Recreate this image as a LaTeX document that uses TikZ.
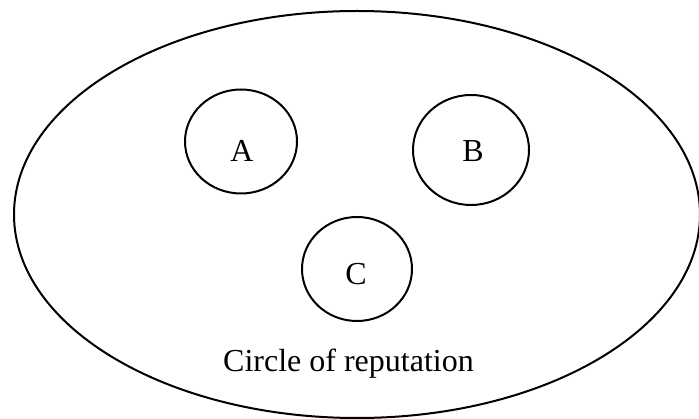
\documentclass[tikz,border=0pt]{standalone}
\usepackage{fontspec}
\setmainfont{Liberation Serif}
\usetikzlibrary{shapes.geometric}
\begin{document}
\begin{tikzpicture}[x=1pt,y=-1pt,
  ring/.style={draw=black, line width=2pt, ellipse, inner sep=0pt},
  lbl/.style={anchor=base, inner sep=0pt, font=\fontsize{32}{38}\selectfont}]
\useasboundingbox (0,0) rectangle (699,419);
\node[ring, minimum width=686pt, minimum height=407pt] (outer) at (357,214.5) {};
\node[ring, minimum width=112pt, minimum height=104pt] (ca) at (241,141.5) {};
\node[ring, minimum width=116pt, minimum height=110pt] (cb) at (471,150) {};
\node[ring, minimum width=110pt, minimum height=104pt] (cc) at (357,269) {};
\node[lbl] (ta) at (242,162) {A};
\node[lbl] (tb) at (473,162) {B};
\node[lbl] (tc) at (356,285) {C};
\node[lbl] (title) at (348.5,372) {Circle of reputation};
\end{tikzpicture}
\end{document}
